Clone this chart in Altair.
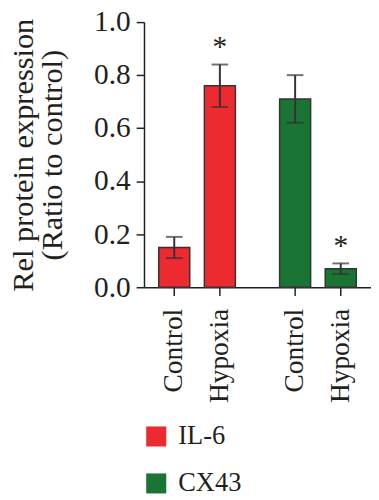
import altair as alt
import pandas as pd

groups = ["IL-6", "IL-6", "CX43", "CX43"]
conditions = ["Control", "Hypoxia", "Control", "Hypoxia"]
values = [0.15, 0.76, 0.71, 0.07]
errors = [0.04, 0.08, 0.09, 0.02]
stars = ["", "*", "", "*"]

df = pd.DataFrame({
    "group": groups,
    "condition": conditions,
    "value": values,
    "err": errors,
    "star": stars,
})
df["lo"] = df["value"] - df["err"]
df["hi"] = df["value"] + df["err"]
df["starpos"] = df["hi"] + 0.065

FONT = "Liberation Serif"
H = 271
W = 232

xs = alt.X("group:N", sort=["IL-6", "CX43"],
           scale=alt.Scale(paddingInner=0.366, paddingOuter=0.122),
           axis=alt.Axis(labels=False, ticks=False, title=None, domain=True,
                         domainColor="#231F20", domainWidth=1.5))
xo = alt.XOffset("condition:N", sort=["Control", "Hypoxia"],
                 scale=alt.Scale(paddingInner=0.32, paddingOuter=0))
ys = alt.Y("value:Q", scale=alt.Scale(domain=[0, 1]),
           axis=alt.Axis(values=[0, 0.2, 0.4, 0.6, 0.8, 1.0], format=".1f",
                         grid=False, tickSize=8, tickWidth=1.5, tickColor="#231F20",
                         domainColor="#231F20", domainWidth=1.5,
                         labelFont=FONT, labelFontSize=30, labelColor="#231F20",
                         labelPadding=6,
                         title=["Rel protein expression", "(Ratio to control)"],
                         titleFont=FONT, titleFontSize=31, titleFontWeight="normal",
                         titleColor="#231F20", titlePadding=26, titleLineHeight=29))

color = alt.Color("group:N", sort=["IL-6", "CX43"],
                  scale=alt.Scale(domain=["IL-6", "CX43"], range=["#EC2A2F", "#1A7434"]),
                  legend=alt.Legend(title=None, orient="none", legendX=-1, legendY=410,
                                    symbolType="square", symbolSize=420,
                                    symbolStrokeWidth=0, labelFont=FONT,
                                    labelFontSize=27, labelColor="#231F20",
                                    rowPadding=20, labelOffset=9, padding=0))

base = alt.Chart(df)

bars = base.mark_bar(stroke="#333333", strokeWidth=1.5).encode(
    x=xs, xOffset=xo, y=ys, color=color)

errs = base.mark_rule(color="#333333", strokeWidth=2).encode(
    x=xs, xOffset=xo, y="lo:Q", y2="hi:Q")

caps_hi = base.mark_tick(color="#333333", thickness=2, size=17, orient="horizontal").encode(
    x=xs, xOffset=xo, y="hi:Q")
caps_lo = base.mark_tick(color="#333333", thickness=2, size=17, orient="horizontal").encode(
    x=xs, xOffset=xo, y="lo:Q")

star_txt = base.mark_text(font=FONT, fontSize=30, color="#231F20", baseline="middle").encode(
    x=xs, xOffset=xo, y="starpos:Q", text="star:N")

xticks = base.mark_rule(color="#231F20", strokeWidth=1.5).encode(
    x=xs, xOffset=xo, y=alt.value(H), y2=alt.value(H + 9))

xlabels = base.mark_text(font=FONT, fontSize=28, color="#231F20", angle=270,
                         align="right", baseline="middle").encode(
    x=xs, xOffset=xo, y=alt.value(H + 22), text="condition:N")

chart = alt.layer(bars, errs, caps_hi, caps_lo, star_txt, xticks, xlabels).properties(
    width=W, height=H,
    autosize=alt.AutoSizeParams(type="none"),
    padding={"left": 139, "top": 9, "right": 0, "bottom": 212},
).configure_view(stroke=None)

chart.save("out.html", embed_options={"renderer": "svg", "actions": False})
